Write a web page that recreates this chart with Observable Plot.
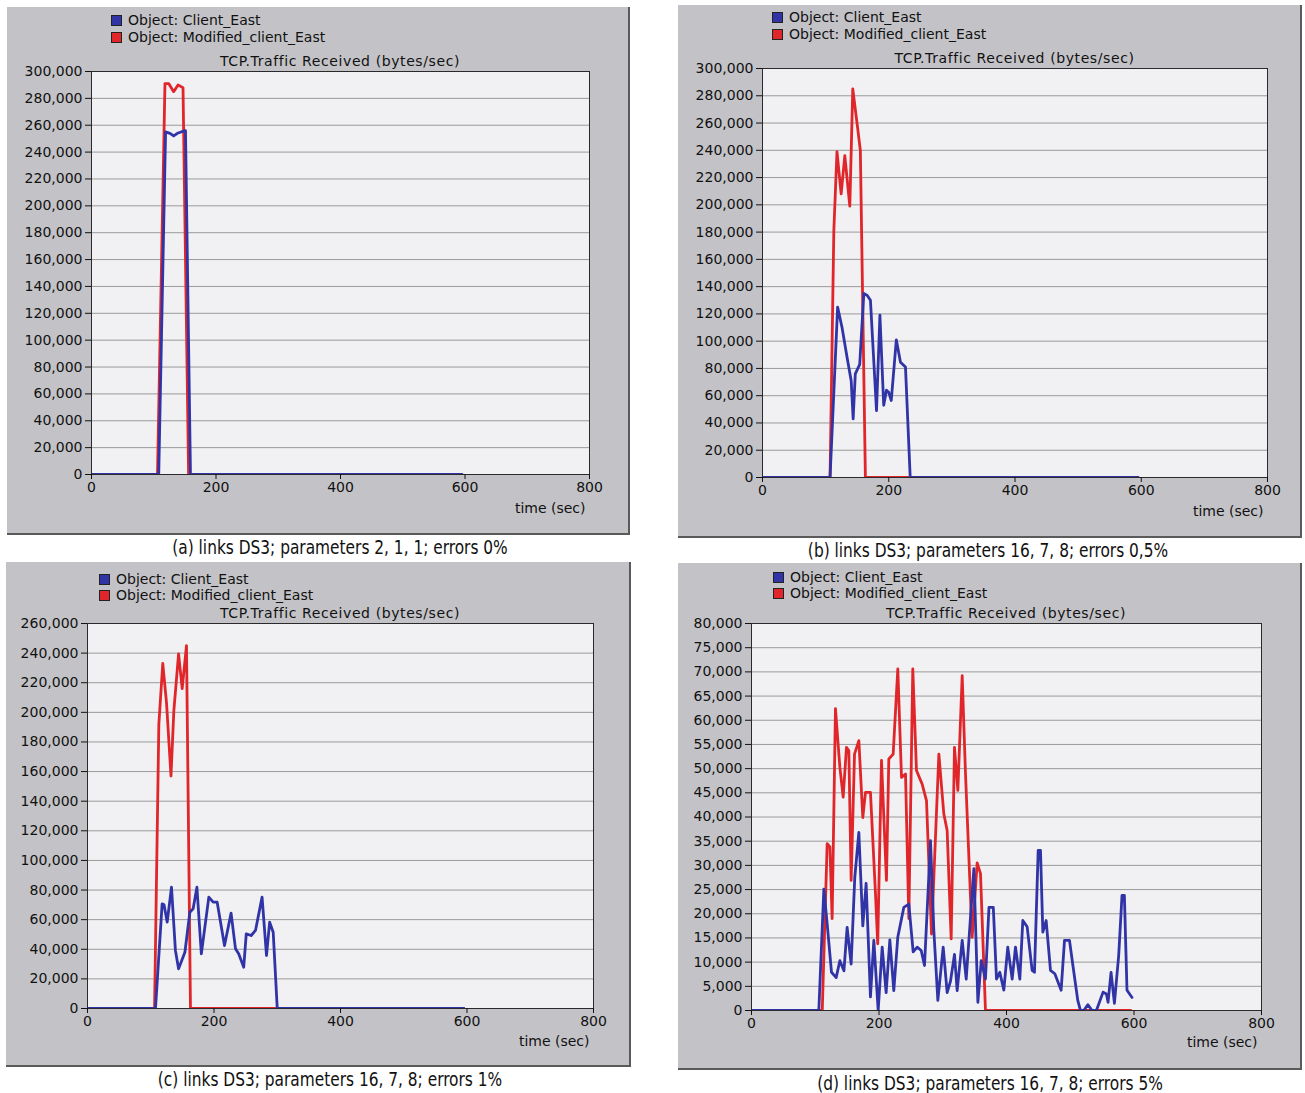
<!DOCTYPE html>
<html><head><meta charset="utf-8">
<script src="https://cdn.jsdelivr.net/npm/d3@7"></script>
<script src="https://cdn.jsdelivr.net/npm/@observablehq/plot@0.6"></script>
<style>
body{margin:0;background:#fff;width:1305px;height:1093px;position:relative;overflow:hidden;font-family:"DejaVu Sans",sans-serif;}
.box{position:absolute;background:#c3c3c7;box-sizing:border-box;border-right:2px solid #5a5a5a;border-bottom:2px solid #5a5a5a;}
.leg{position:absolute;font-size:14px;color:#111;white-space:nowrap;line-height:16px}
.sw{display:inline-block;width:9px;height:9px;border:1px solid #222;margin-right:6px;vertical-align:-1px}
.ttl{position:absolute;font-size:14px;letter-spacing:0.6px;color:#111;transform:translateX(-50%);white-space:nowrap;line-height:16px}
.cap{position:absolute;font-family:"Liberation Sans Narrow","DejaVu Sans Condensed",sans-serif;font-size:19px;color:#111;transform:translateX(-50%) scaleX(0.9);white-space:nowrap;line-height:22px}
.plot{position:absolute}
</style></head><body>
<script>
// ---------- data ----------
const seriesNames = ["Object: Client_East", "Object: Modified_client_East"];
const chartTitle = "TCP.Traffic Received (bytes/sec)";
const xLabel = "time (sec)";
const xTicks = [0, 200, 400, 600, 800];
const captions = [
  "(a) links DS3; parameters 2, 1, 1; errors 0%",
  "(b) links DS3; parameters 16, 7, 8; errors 0,5%",
  "(c) links DS3; parameters 16, 7, 8; errors 1%",
  "(d) links DS3; parameters 16, 7, 8; errors 5%"
];
const yMaxes = [300000, 300000, 260000, 80000];
const ySteps = [20000, 20000, 20000, 5000];

const a_client = [[0,0],[108,0],[119,255000],[126,254000],[132,252000],[138,254000],[144,255000],[151,256000],[159,0],[595,0]];
const a_modified = [[0,0],[106,0],[118,291000],[124,291000],[132,285000],[139,290000],[147,288000],[156,0],[595,0]];

const b_client = [[0,0],[107,0],[119,125000],[126,110000],[134,88000],[140.5,71000],[143.6,43000],[147,76000],[154,83000],[160.5,135000],[166,133500],[171,130000],[180.6,49000],[186,119000],[192,53000],[196.4,64000],[200,62500],[204,56500],[212,101000],[218.6,84500],[226.5,81000],[234,0],[595,0]];
const b_modified = [[0,0],[107,0],[113,181000],[118,239000],[124.6,208000],[130.4,236000],[138.3,199000],[143,285000],[150,259000],[155,240000],[163,0],[595,0]];

const c_client = [[0,0],[107.5,0],[118,70700],[121,70000],[126,58300],[132.8,81900],[139,39200],[144,26800],[154,38000],[161.8,65000],[167,67300],[173,81900],[180,36900],[191.8,75200],[198.7,71800],[205,71800],[216.6,42500],[227,64400],[234,40300],[239,36900],[247,27900],[251,50400],[258.8,49300],[265.6,52700],[276,75200],[283,35800],[288,58300],[293.6,51500],[300,0],[595,0]];
const c_modified = [[0,0],[106,0],[112.8,192000],[119,233000],[125,206000],[132,157000],[136.5,201000],[144,239500],[149.7,216000],[156.5,245000],[162.8,0],[595,0]];

const d_client = [[0,0],[105.6,0],[113.5,25100],[118.7,17900],[125.5,7900],[132.8,6800],[138.6,10300],[145,8200],[150,17200],[156.3,9600],[162,27500],[168.4,36800],[174.6,17500],[179.8,26300],[186.6,2800],[191.9,14500],[198.7,0],[205,13100],[211.2,3700],[217,14600],[223.2,4100],[229.5,15200],[238.9,21300],[246.8,22000],[253.6,12100],[259.9,13100],[266.2,12400],[271.4,9300],[280.8,35100],[286,16600],[292.3,2100],[300.7,13100],[306.9,3700],[312.2,6100],[318.4,11600],[322.6,4100],[330.5,14500],[336.8,6500],[348.8,29300],[355.1,1700],[360.4,10300],[367,6500],[372.5,21300],[379.3,21300],[384.3,6500],[389.5,7900],[395.8,4200],[402,13100],[408.9,6500],[414.1,13100],[420.9,6500],[425.6,18600],[432.4,17300],[440.2,8300],[443.9,7900],[449.7,33100],[453.3,33100],[457,16200],[462.2,18600],[469,8300],[475.8,7600],[485.7,4200],[491,14500],[498.8,14500],[504.5,9000],[511.8,2100],[516,0],[521.2,0],[527.5,1200],[534.3,0],[541,0],[551.5,3800],[556.7,3400],[559.3,1700],[564,7900],[569.3,1500],[576,11400],[581.2,23800],[584.9,23800],[589,4200],[596.9,2700]];
const d_modified = [[0,0],[111,0],[118.7,34500],[123,33800],[126.5,19000],[131.7,62400],[138.6,50300],[143.8,44100],[149,54400],[152.7,53700],[156.3,26900],[161.6,53000],[168.4,55800],[174.6,39900],[178.8,45100],[186.6,45100],[194.5,24100],[198,13800],[203.9,51700],[211.7,26900],[215.4,52000],[222.2,53000],[229.5,70600],[235.3,48200],[241.6,48900],[246.8,19000],[253,70600],[258.8,49600],[267.7,46800],[274.5,43400],[282.4,15800],[293.9,53000],[301.7,40600],[306.9,37200],[313.2,14800],[318.4,54400],[323.7,45500],[330.5,69200],[335.7,48900],[346.1,15100],[354,30500],[359.2,28300],[367,0],[595,0]];

// ---------- layout ----------
const BLUE = "#3034a6", RED = "#e0262a";
const panels = [
  {client:a_client, modified:a_modified, box:{l:7,t:7,r:630,b:535}, frame:{l:91,r:589,t:71,b:474}, legX:111, legY:[20,37], titleY:61, timeY:508, cap:{x:340,y:547}},
  {client:b_client, modified:b_modified, box:{l:678,t:5,r:1302,b:538}, frame:{l:762,r:1267,t:68,b:477}, legX:772, legY:[17,34], titleY:58, timeY:511, cap:{x:988,y:550}},
  {client:c_client, modified:c_modified, box:{l:6,t:562,r:631,b:1067}, frame:{l:87,r:593,t:623,b:1008}, legX:99, legY:[579,595], titleY:613, timeY:1041, cap:{x:330,y:1079}},
  {client:d_client, modified:d_modified, box:{l:678,t:563,r:1302,b:1070}, frame:{l:751,r:1261,t:623,b:1010}, legX:773, legY:[577,593], titleY:613, timeY:1042, cap:{x:990,y:1083}}
];

function el(tag, cls, style, html){
  const e = document.createElement(tag);
  if (cls) e.className = cls;
  Object.assign(e.style, style);
  if (html != null) e.innerHTML = html;
  document.body.appendChild(e);
  return e;
}

panels.forEach((p, i) => {
  const {box, frame} = p;
  el("div", "box", {left: box.l+"px", top: box.t+"px", width: (box.r-box.l)+"px", height: (box.b-box.t)+"px"});
  [BLUE, RED].forEach((c, k) => {
    el("div", "leg", {left: p.legX+"px", top: (p.legY[k]-8)+"px"},
      `<span class="sw" style="background:${c}"></span>${seriesNames[k]}`);
  });
  el("div", "ttl", {left: ((frame.l+frame.r)/2)+"px", top: (p.titleY-8)+"px"}, chartTitle);
  el("div", "cap", {left: p.cap.x+"px", top: (p.cap.y-11)+"px"}, captions[i]);

  const mt = 20;
  const mb = box.b - frame.b - 5;
  const yMax = yMaxes[i], step = ySteps[i];
  const yt = d3.range(0, yMax + 1, step);
  const chart = Plot.plot({
    width: box.r - box.l,
    height: (frame.b - frame.t) + mt + mb,
    marginLeft: frame.l - box.l,
    marginRight: box.r - frame.r,
    marginTop: mt,
    marginBottom: mb,
    style: {background: "transparent", fontFamily: "DejaVu Sans, sans-serif", fontSize: "14px", color: "#111", overflow: "visible"},
    x: {domain: [0, 800]},
    y: {domain: [0, yMax]},
    marks: [
      Plot.frame({fill: "#f1f1f3"}),
      Plot.gridY(yt, {stroke: "#9a9a9a", strokeOpacity: 1}),
      Plot.line(p.modified, {x: d => d[0], y: d => d[1], stroke: RED, strokeWidth: 2.8, clip: true}),
      Plot.line(p.client, {x: d => d[0], y: d => d[1], stroke: BLUE, strokeWidth: 2.8, clip: true}),
      Plot.frame({stroke: "#2a2a2a", strokeWidth: 1}),
      Plot.axisY({ticks: yt, tickFormat: d3.format(","), tickSize: 6, tickPadding: 3, label: null, fontSize: 14}),
      Plot.axisX({ticks: xTicks, tickSize: 5, tickPadding: 3, label: null, fontSize: 14}),
      Plot.text([xLabel], {frameAnchor: "bottom-right", text: d => d, dx: -4, dy: p.timeY - frame.b, lineAnchor: "middle", fontSize: 14})
    ]
  });
  chart.classList.add("plot");
  chart.style.left = box.l + "px";
  chart.style.top = (frame.t - mt) + "px";
  document.body.appendChild(chart);
});
</script>
</body></html>
